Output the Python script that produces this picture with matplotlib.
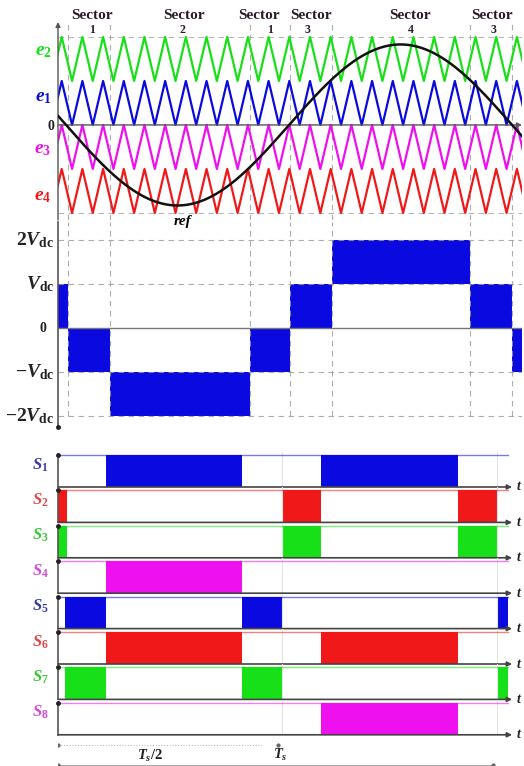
import numpy as np
import matplotlib.pyplot as plt

# --- Canvas (pixels) ---
W, H = 524, 766
X_MIN, X_MAX = -6.5, 368          # reference angle, degrees

# --- Colours ---
GREEN = "#18e018"
BLUE = "#0a0ae0"
MAGENTA = "#ee10ee"
RED = "#f01818"
GRID = "#9a9a9a"
AXIS = "#555555"

# --- Carrier / reference ---
CARRIER_PERIOD = 16.7            # degrees
CARRIER_PEAK0 = -3.5             # first peak, degrees
CARRIER_NAMES = ["e_2", "e_1", "e_3", "e_4"]
CARRIER_LOW = [1, 0, -1, -2]
CARRIER_COLORS = [GREEN, BLUE, MAGENTA, RED]
CARRIER_LABEL_Y = [52, 98, 150, 197]      # px
REF_AMPLITUDE = 1.83

# --- Sectors ---
SECTOR_EDGES = [1.5, 35.5, 148.5, 181, 214.5, 326, 360]
SECTOR_NUMS = ["1", "2", "1", "3", "4", "3"]
SECTOR_TEXT_X = [21, 95, 156, 198, 278, 344]
SECTOR_NUM_X = [21, 94, 165, 195, 278, 345]

# --- Output voltage staircase (units of Vdc) ---
STAIR_START = [-6.5, 1.5, 35.5, 148.5, 181, 214.5, 326, 360]
STAIR_END = [1.5, 35.5, 148.5, 181, 214.5, 326, 360, 368]
STAIR_LOW = [0, -1, -2, -1, 0, 1, 0, -1]
STAIR_HIGH = [1, 0, -1, 0, 1, 2, 1, 0]
LEVEL_VALUES = [2, 1, 0, -1, -2]
LEVEL_LABELS = [r"$2V_{\mathrm{dc}}$", r"$V_{\mathrm{dc}}$", r"$0$",
                r"$-V_{\mathrm{dc}}$", r"$-2V_{\mathrm{dc}}$"]

# --- Switching signals: on-intervals in degrees ---
S1_ON = [(32, 142), (206, 316)]
S2_ON = [(-6.5, 0.8), (174, 206), (316, 348)]
S3_ON = [(-6.5, 0.8), (174, 206), (316, 348)]
S4_ON = [(32, 142)]
S5_ON = [(-0.8, 32), (142, 174), (348, 357)]
S6_ON = [(32, 142), (206, 316)]
S7_ON = [(-0.8, 32), (142, 174), (348, 357)]
S8_ON = [(206, 316)]
SWITCH_ON = [S1_ON, S2_ON, S3_ON, S4_ON, S5_ON, S6_ON, S7_ON, S8_ON]
SWITCH_COLORS = [BLUE, RED, GREEN, MAGENTA, BLUE, RED, GREEN, MAGENTA]
SWITCH_LABEL_COLORS = ["#3a3aa8", "#e04848", "#38c838", "#d848d8",
                       "#3a3aa8", "#e04848", "#38c838", "#d848d8"]
SWITCH_GUIDES = [174, 348]

plt.rcParams.update({
    "mathtext.fontset": "custom",
    "mathtext.rm": "Liberation Serif:bold",
    "mathtext.it": "Liberation Serif:italic:bold",
    "mathtext.bf": "Liberation Serif:bold",
    "font.family": "Liberation Serif",
    "font.weight": "bold",
})

fig = plt.figure(figsize=(W / 100, H / 100), dpi=100)


def add_px_axes(left, top, right, bottom):
    ax = fig.add_axes([left / W, 1 - bottom / H, (right - left) / W, (bottom - top) / H])
    ax.set_xlim(X_MIN, X_MAX)
    ax.axis("off")
    return ax


def fig_text(px, py, s, **kw):
    fig.text(px / W, 1 - py / H, s, **kw)


def arrow(ax, start, end, color=AXIS, lw=1.0):
    ax.annotate("", xy=end, xytext=start, annotation_clip=False,
                arrowprops=dict(arrowstyle="-|>", color=color, lw=lw,
                                mutation_scale=7, shrinkA=0, shrinkB=0))


dash = (0, (5, 4))

# ---------------- Carriers + reference ----------------
ax1 = add_px_axes(58, 22, 522, 220)
ax1.set_ylim(-2.16, 2.34)
for v in [2, -2]:
    ax1.plot([X_MIN, X_MAX], [v, v], color=GRID, lw=0.8, ls=dash, alpha=0.7)
for x in SECTOR_EDGES:
    ax1.plot([x, x], [-2.16, 2.34], color=GRID, lw=0.8, ls=dash, alpha=0.8)

n0 = int(np.floor((X_MIN - CARRIER_PEAK0) / CARRIER_PERIOD)) - 1
n1 = int(np.ceil((X_MAX - CARRIER_PEAK0) / CARRIER_PERIOD)) + 1
peaks = CARRIER_PEAK0 + CARRIER_PERIOD * np.arange(n0, n1)
tv = np.ravel(np.column_stack([peaks, peaks + CARRIER_PERIOD / 2]))
for low, color in zip(CARRIER_LOW, CARRIER_COLORS):
    yv = np.tile([low + 1, low], len(peaks))
    ax1.plot(tv, yv, color=color, lw=1.6)

theta = np.linspace(X_MIN, X_MAX, 600)
ax1.plot(theta, -REF_AMPLITUDE * np.sin(np.radians(theta)), color="#111111", lw=1.8, zorder=5)
ax1.text(94, -2.2, "ref", fontsize=11, fontstyle="italic", fontweight="bold",
         ha="center", va="center", clip_on=False)

arrow(ax1, (X_MIN, 0), (X_MAX, 0))
arrow(ax1, (X_MIN, -2.16), (X_MIN, 2.34))

for name, yx, c in zip(CARRIER_NAMES, CARRIER_LABEL_Y, CARRIER_COLORS):
    fig_text(43, yx, f"${name}$", color=c, fontsize=14, ha="center", va="center")
fig_text(51, 126, r"$0$", color="#222222", fontsize=10, ha="center", va="center")

for xt, xn, num in zip(SECTOR_TEXT_X, SECTOR_NUM_X, SECTOR_NUMS):
    ax1.text(xt, 2.49, "Sector", fontsize=11, fontweight="bold", color="#2a1a2a",
             ha="center", va="center", clip_on=False)
    ax1.text(xn, 2.15, num, fontsize=8.5, fontweight="bold", color="#2a1a2a",
             ha="center", va="center", clip_on=False)

# ---------------- Output voltage ----------------
ax2 = add_px_axes(58, 222, 522, 430)
ax2.set_ylim(-2.32, 2.41)
for v in [2, 1, -1, -2]:
    ax2.plot([X_MIN, X_MAX], [v, v], color=GRID, lw=0.8, ls=dash, alpha=0.8)
ax2.plot([X_MIN, X_MAX], [0, 0], color="#777777", lw=1.0)
for x in SECTOR_EDGES:
    ax2.plot([x, x], [-2.0, 2.41], color=GRID, lw=0.8, ls=dash, alpha=0.8)
for s, e, lo, hi in zip(STAIR_START, STAIR_END, STAIR_LOW, STAIR_HIGH):
    ax2.fill_between([s, e], [lo, lo], [hi, hi], color=BLUE, lw=0)
ax2.plot([X_MIN, X_MIN], [-2.25, 2.41], color=AXIS, lw=1.2, clip_on=False)
ax2.plot([X_MIN], [-2.25], "o", color="#222222", ms=2.5, clip_on=False)
for v, lab in zip(LEVEL_VALUES, LEVEL_LABELS):
    py = 328 - 44 * v
    if v == 0:
        fig_text(43, py, lab, fontsize=10, ha="center", va="center", color="#222222")
    else:
        fig_text(54, py, lab, fontsize=14, ha="right", va="center", color="#222222")

# ---------------- Switching signals ----------------
for i, (on, c, lc) in enumerate(zip(SWITCH_ON, SWITCH_COLORS, SWITCH_LABEL_COLORS)):
    base = 487 + 35.4 * i
    ax = add_px_axes(58, base - 35, 522, base)
    ax.set_ylim(0, 35 / 32)
    for g in SWITCH_GUIDES:
        ax.plot([g, g], [0, 35 / 32], color="#e4e4e4", lw=0.8)
    for s, e in on:
        ax.fill_between([s, e], [0, 0], [1, 1], color=c, lw=0)
    ax.plot([X_MIN, 357], [1, 1], color=c, lw=1.0, alpha=0.55)
    arrow(ax, (X_MIN, 0), (360, 0), color="#444444", lw=1.2)
    ax.text(366, 0, r"$t$", fontsize=10, ha="center", va="center", color="#222222",
            clip_on=False)
    ax.plot([X_MIN, X_MIN], [0, 1], color=AXIS, lw=1.2, clip_on=False)
    ax.plot([X_MIN], [1], "o", color="#222222", ms=2.5, clip_on=False)
    fig_text(40, base - 22, f"$S_{i + 1}$", color=lc, fontsize=12, ha="center", va="center")

# ---------------- Period annotation ----------------
ax3 = add_px_axes(58, 738, 522, 766)
ax3.set_ylim(0, 1)
ax3.plot([X_MIN, 159], [0.75, 0.75], color="#bbbbbb", lw=0.8, ls=(0, (1, 1.5)))
ax3.plot([X_MIN, 171], [0.75, 0.75], "o", color="#666666", ms=2, ls="none")
ax3.plot([X_MIN, 344.5], [0.04, 0.04], color="#aaaaaa", lw=0.8)
ax3.plot([X_MIN, 344.5], [0.04, 0.04], "o", color="#666666", ms=2, ls="none")
ax3.text(68, 0.36, r"$T_s/2$", fontsize=10.5, ha="center", va="center", color="#222222")
ax3.text(173, 0.4, r"$T_s$", fontsize=10.5, ha="center", va="center", color="#222222")

fig.savefig("out.png", dpi=100)
